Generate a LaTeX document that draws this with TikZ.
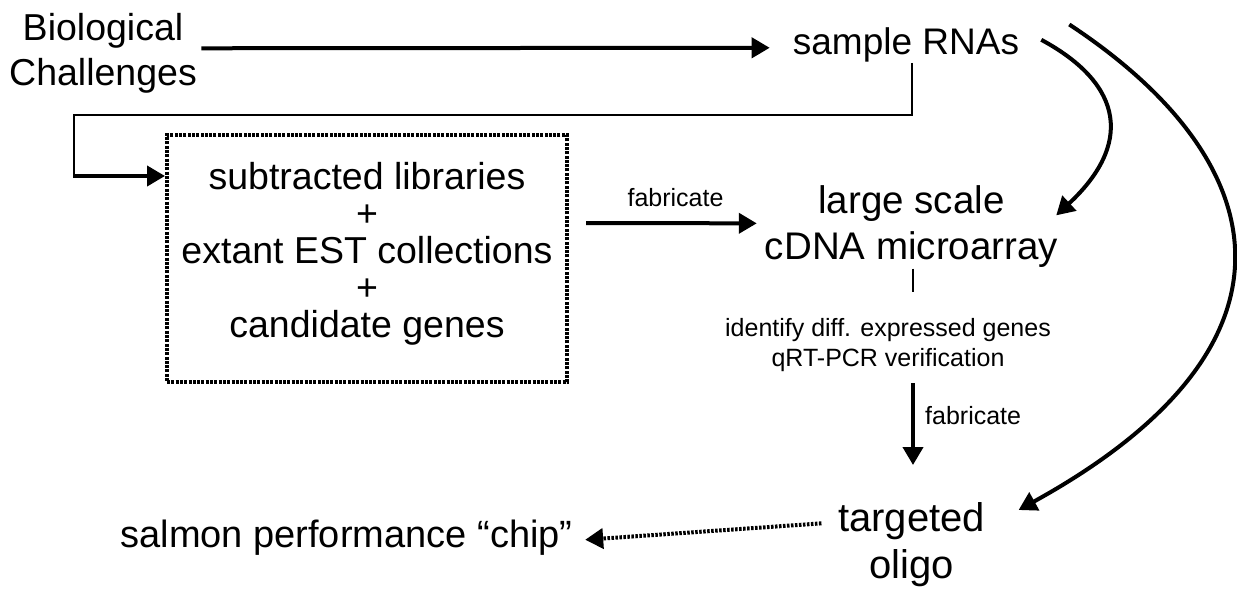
\documentclass[tikz,border=0pt]{standalone}
\usepackage{fontspec}
\setmainfont{Liberation Sans}
\usetikzlibrary{arrows.meta}
\begin{document}
\begin{tikzpicture}[x=1pt,y=-1pt,
  big/.style={font=\fontsize{37.5}{45}\selectfont, inner sep=0pt, align=center},
  boxtxt/.style={font=\fontsize{37.5}{37}\selectfont, align=center, draw,
    line width=4pt, dash pattern=on 3pt off 1.3pt,
    minimum width=400pt, minimum height=247pt, inner sep=0pt, text depth=18pt},
  small/.style={font=\fontsize{25}{30}\selectfont, inner sep=0pt, align=center},
  arr/.style={line width=4pt, -{Triangle[length=18pt,width=20pt]}},
  thinline/.style={line width=2pt},
  dotarr/.style={line width=4pt, dash pattern=on 2.5pt off 1.5pt, -{Triangle[length=18pt,width=20pt]}},
]
\useasboundingbox (0,0) rectangle (1237,594);
% nodes
\node[big, anchor=north] (bio) at (103,13) {Biological\\Challenges};
\node[font=\fontsize{37}{45}\selectfont, inner sep=0pt, anchor=base] (rna) at (906,55) {sample RNAs};
\node[boxtxt] (box) at (367,258.5) {subtracted libraries\\+\\extant EST collections\\+\\candidate genes};
\node[font=\fontsize{38.5}{46}\selectfont, inner sep=0pt, align=center, anchor=north] (lsc) at (911.5,185) {large scale\\cDNA microarray};
\node[small, anchor=north] (ident) at (888,317.7) {identify diff. expressed genes\\qRT-PCR verification};
\node[font=\fontsize{40}{47}\selectfont, inner sep=0pt, align=center, anchor=north] (olig) at (911.5,502) {targeted\\oligo};
\node[font=\fontsize{38}{45}\selectfont, inner sep=0pt, anchor=base] (chip) at (346.5,547) {salmon performance \textquotedblleft chip\textquotedblright};
\node[small, anchor=base] (fab1) at (675.5,206) {fabricate};
\node[small, anchor=base west] (fab2) at (925,424) {fabricate};
% connectors
\draw[arr] ([xshift=4.3pt,yshift=4.9pt]bio.east) -- ([xshift=-23pt,yshift=-2.35pt]rna.west);
\coordinate (elb) at ([xshift=-91pt,yshift=82.5pt]box.west);
\draw[thinline] ([xshift=6pt]rna.south) -- ++(0,52) -| (elb);
\draw[arr] ([xshift=-1pt]elb) -- ([yshift=82.5pt]box.west);
\draw[arr] ([xshift=17pt,yshift=35.5pt]box.east) -- ([xshift=-8pt,yshift=2.8pt]lsc.west);
\draw[thinline] ([xshift=1.5pt,yshift=-1.3pt]lsc.south) -- ([xshift=25pt,yshift=25.7pt]ident.north);
\draw[arr] ([xshift=25pt,yshift=-12pt]ident.south) -- ([xshift=1.5pt,yshift=37pt]olig.north);
\draw[dotarr] ([xshift=-16.5pt,yshift=21pt]olig.west) -- ([xshift=12.5pt,yshift=-2.6pt]chip.east);
\draw[arr] ([xshift=22pt,yshift=5.65pt]rna.east) .. controls (1125,85) and (1132,145) .. ([xshift=-2pt,yshift=10.8pt]lsc.east);
\draw[arr] ([xshift=50pt,yshift=3.5pt]rna.north east) .. controls (1275,160) and (1318,345) .. ([xshift=33.5pt,yshift=-8pt]olig.north east);
\end{tikzpicture}
\end{document}
